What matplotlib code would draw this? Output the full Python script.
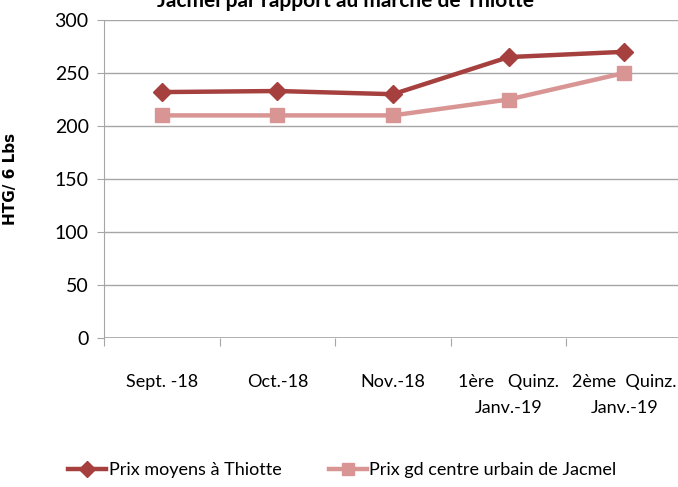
import matplotlib
matplotlib.use("Agg")
import matplotlib.pyplot as plt
from matplotlib.lines import Line2D

plt.rcParams["font.family"] = ["Lato", "DejaVu Sans"]

categories = ["Sept. -18", "Oct.-18", "Nov.-18", "1ère   Quinz.\nJanv.-19", "2ème  Quinz.\nJanv.-19"]
thiotte = [232, 233, 230, 265, 270]
jacmel = [210, 210, 210, 225, 250]
yticks = [0, 50, 100, 150, 200, 250, 300]

dark = "#A5403F"
light = "#D99594"
grid = "#A6A6A6"

fig = plt.figure(figsize=(6.78, 4.87), dpi=100)
ax = fig.add_axes([104 / 678, 149 / 487, 578 / 678, 318 / 487])

x = list(range(len(categories)))
ax.plot(x, thiotte, color=dark, lw=3.2, marker="D", ms=9, mec=dark, mfc=dark)
ax.plot(x, jacmel, color=light, lw=3.2, marker="s", ms=10, mec=light, mfc=light)

ax.set_xlim(-0.5, 4.5)
ax.set_ylim(0, 300)
ax.set_yticks(yticks)
ax.yaxis.grid(True, color=grid, lw=1)
ax.set_axisbelow(True)
for s in ["top", "right", "bottom"]:
    ax.spines[s].set_visible(False)
ax.spines["left"].set_color(grid)
ax.axhline(0, color=grid, lw=1.2, zorder=0)

ax.set_xticks([i - 0.5 for i in range(len(categories) + 1)], minor=False)
ax.set_xticklabels([])
ax.tick_params(axis="x", length=6, color=grid, direction="out")
ax.set_xticks(x, minor=True)
ax.set_xticklabels(categories, minor=True, fontsize=13, linespacing=1.75, va="top")
ax.tick_params(axis="x", which="minor", length=0, pad=26)
ax.tick_params(axis="y", length=5, color=grid, labelsize=14, pad=6)

ax.set_ylabel("HTG/ 6 Lbs", fontsize=11, fontweight="bold", family="DejaVu Sans", labelpad=26)

fig.text(0.51, 1.0 + 9 / 487, "Jacmel par rapport au marché de Thiotte",
         ha="center", va="top", fontsize=15, fontweight="bold")

handles = [
    Line2D([], [], color=dark, lw=3.2, marker="D", ms=8),
    Line2D([], [], color=light, lw=3.2, marker="s", ms=9),
]
fig.legend(handles, ["Prix moyens à Thiotte", "Prix gd centre urbain de Jacmel"],
           loc="center", bbox_to_anchor=(0.505, 1 - 470 / 487), ncol=2, frameon=False,
           fontsize=13, handlelength=2.1, columnspacing=2.6, handletextpad=0.15)

fig.savefig("out.png", dpi=100)
